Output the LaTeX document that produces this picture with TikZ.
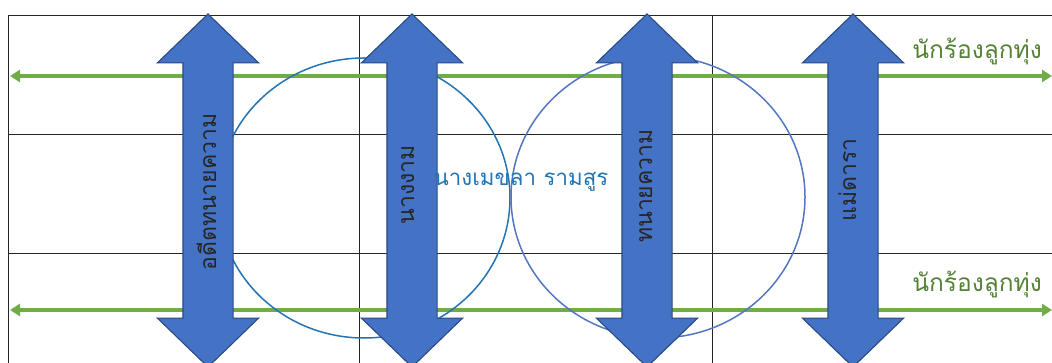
\documentclass[tikz,border=0pt]{standalone}
\usepackage{fontspec}
\newfontfamily\thaifont[Script=Thai]{Loma}
\usetikzlibrary{arrows.meta, shapes.arrows}
\definecolor{barcolor}{HTML}{4472C4}
\definecolor{baredge}{HTML}{2A4A85}
\definecolor{linegreen}{RGB}{112,173,71}
\definecolor{textgreen}{RGB}{84,130,53}
\definecolor{ringone}{RGB}{36,116,180}
\definecolor{ringtwo}{RGB}{84,118,192}

\begin{document}
\begin{tikzpicture}[x=1pt, y=-1pt,
    grid/.style={draw=black!85, line width=0.8pt},
    bar/.style={shape=double arrow, rotate=90, draw=baredge, fill=barcolor,
                line width=1.1pt, minimum height=353pt, minimum width=100pt,
                double arrow head extend=25.5pt, double arrow tip angle=92,
                inner xsep=0pt, inner ysep=24.5pt},
    bartext/.style={rotate=90, anchor=base, inner sep=0pt, text=black!85,
                    font=\thaifont\fontsize{23}{26}\selectfont},
    greenline/.style={draw=linegreen, line width=3.2pt,
                      {Triangle[length=10pt,width=12pt]}-{Triangle[length=10pt,width=12pt]}},
    singer/.style={anchor=base east, inner sep=0pt, text=textgreen,
                   font=\thaifont\fontsize{24.5}{28}\selectfont},
    ring/.style={line width=1.5pt}
  ]
  \useasboundingbox (0,0) rectangle (1052,363);
  \clip (0,0) rectangle (1052,363);

  % table
  \draw[grid] (8,15) rectangle (1064,372);
  \draw[grid] (359,15) -- (359,372);
  \draw[grid] (712,15) -- (712,372);
  \draw[grid] (8,134) -- (1064,134);
  \draw[grid] (8,253) -- (1064,253);

  % singer lines
  \coordinate (topleft)  at (10,76);
  \coordinate (topright) at (1052,76);
  \coordinate (lowleft)  at (10,310);
  \coordinate (lowright) at (1052,310);
  \draw[greenline] (topleft) -- (topright);
  \draw[greenline] (lowleft) -- (lowright);

  % rings
  \draw[ring, ringone] (364,198) ellipse [x radius=146, y radius=140];
  \draw[ring, ringtwo] (658,197) ellipse [x radius=147, y radius=141];

  % bars
  \node[bar] (lawyerold) at (208,190.5) {};
  \node[bar] (beauty)    at (412,190.5) {};
  \node[bar] (lawyer)    at (647,190.5) {};
  \node[bar] (actress)   at (853,190.5) {};

  % texts
  \node[bartext] (lawyeroldtext) at (216,192) {อดีตทนายความ};
  \node[bartext] (beautytext)    at (414,185) {นางงาม};
  \node[bartext] (lawyertext)    at (652,186) {ทนายความ};
  \node[bartext] (actresstext)   at (856,180) {แม่ดารา};

  \node[text=ringone, font=\thaifont\fontsize{22.3}{26}\selectfont] (name)
        at (521,182) {นางเมขลา รามสูร};

  \node[singer] (singertop) at (1042,59)  {นักร้องลูกทุ่ง};
  \node[singer] (singerlow) at (1042,292) {นักร้องลูกทุ่ง};
\end{tikzpicture}
\end{document}
